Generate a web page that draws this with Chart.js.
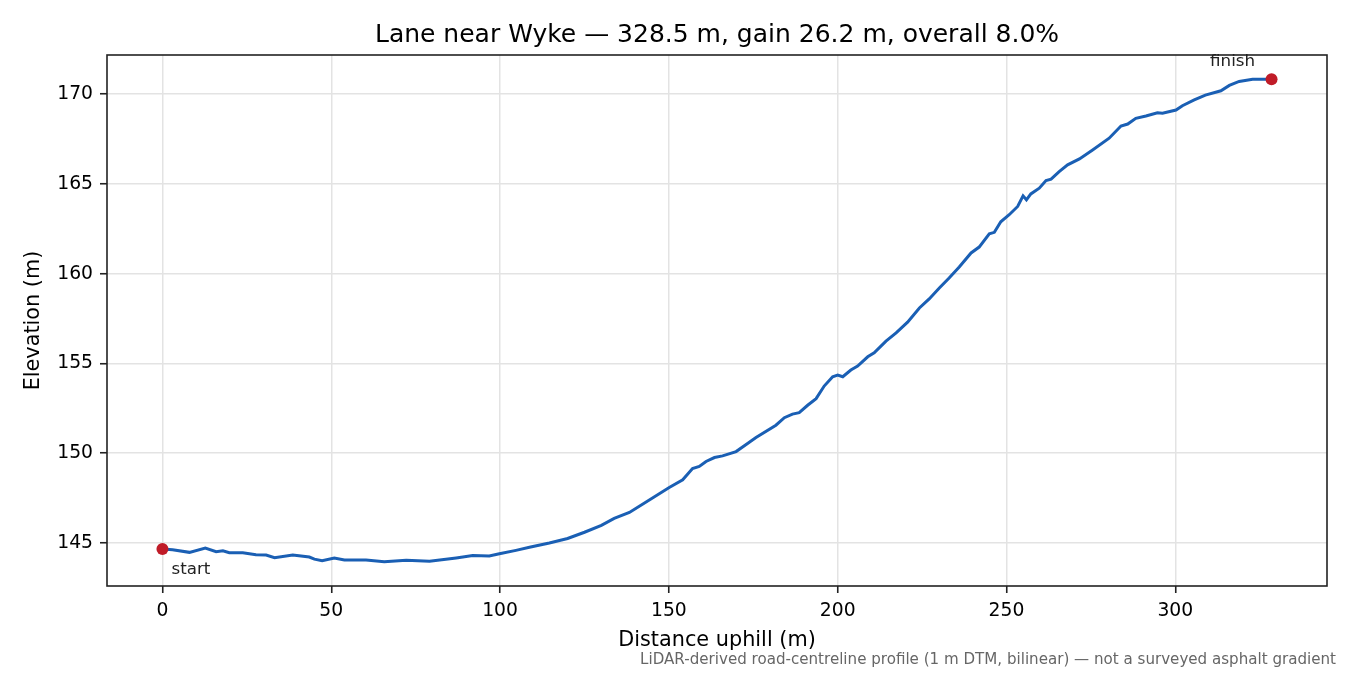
<!DOCTYPE html>
<html>
<head>
<meta charset="utf-8">
<script src="https://cdn.jsdelivr.net/npm/chart.js@4/dist/chart.umd.min.js"></script>
<style>
  html, body { margin: 0; padding: 0; background: #fff; }
  #wrap { width: 1350px; height: 675px; }
</style>
</head>
<body>
<div id="wrap"><canvas id="profile" width="1350" height="675"></canvas></div>
<script>
const distM = [0, 3, 8, 12.7, 15.9, 17.9, 19.8, 23.8, 27.7, 30.7, 33.2, 38.6, 43.5, 45, 47.3, 50.9, 53.9, 60.3, 65.7, 72.2, 79.1, 87, 91.9, 96.8, 99.8, 104.7, 108.7, 114.6, 120, 125, 130, 133.8, 138.3, 144.2, 150.1, 154.1, 157, 159, 161, 163.5, 165.9, 169.9, 173.3, 175.8, 181.7, 184.2, 186.6, 188.6, 191.1, 193.6, 196, 198.5, 200, 201.5, 203.9, 205.9, 208.9, 210.8, 214.3, 217.3, 220.7, 224.2, 227.1, 230.1, 233, 236, 239.5, 241.9, 244.9, 246.4, 248.3, 250.8, 253.3, 254.9, 255.9, 257.2, 259.7, 261.7, 263.2, 265.6, 268.1, 271.6, 275.5, 280.4, 283.9, 285.9, 288.3, 291.3, 294.7, 296.2, 300.2, 302.1, 305.6, 308.9, 313.5, 316, 318.9, 322.9, 328.5]
const elevM = [144.67, 144.62, 144.48, 144.72, 144.52, 144.57, 144.46, 144.46, 144.35, 144.33, 144.18, 144.33, 144.22, 144.1, 144.02, 144.17, 144.06, 144.05, 143.95, 144.04, 143.98, 144.17, 144.3, 144.28, 144.4, 144.59, 144.76, 145.0, 145.25, 145.6, 145.98, 146.37, 146.7, 147.4, 148.09, 148.52, 149.15, 149.26, 149.54, 149.76, 149.85, 150.09, 150.54, 150.87, 151.56, 151.98, 152.18, 152.26, 152.67, 153.04, 153.74, 154.26, 154.35, 154.26, 154.63, 154.85, 155.37, 155.59, 156.24, 156.7, 157.3, 158.09, 158.59, 159.2, 159.76, 160.37, 161.15, 161.48, 162.22, 162.3, 162.89, 163.28, 163.74, 164.33, 164.11, 164.44, 164.76, 165.18, 165.26, 165.68, 166.06, 166.39, 166.89, 167.54, 168.22, 168.33, 168.65, 168.78, 168.96, 168.93, 169.11, 169.35, 169.67, 169.94, 170.18, 170.48, 170.7, 170.82, 170.83]
const endLabels = ['start', 'finish']
const xTicks = [0, 50, 100, 150, 200, 250, 300]
const yTicks = [145, 150, 155, 160, 165, 170]
const titleText = 'Lane near Wyke \u2014 328.5 m, gain 26.2 m, overall 8.0%'
const noteText = 'LiDAR-derived road-centreline profile (1 m DTM, bilinear) \u2014 not a surveyed asphalt gradient'

const FONT = 'DejaVu Sans'
const last = distM.length - 1
const span = distM[last] - distM[0]
const lo = Math.min(...elevM), hi = Math.max(...elevM)

const linePts = distM.map((d, i) => ({x: d, y: elevM[i]}))
const endPts = [{x: distM[0], y: elevM[0]}, {x: distM[last], y: elevM[last]}]

const keepTicks = list => scale => {
    scale.ticks = list.map(v => ({value: v}))
}

// title centred over the plot box, frame, end labels and footnote
const frameAndNotes = {
    id: 'frameAndNotes',
    afterDatasetsDraw(chart) {
        const {ctx, chartArea: a, scales} = chart
        ctx.save()
        ctx.strokeStyle = '#222'
        ctx.lineWidth = 1.6
        ctx.strokeRect(a.left, a.top, a.right - a.left, a.bottom - a.top)

        ctx.fillStyle = '#000'
        ctx.font = `25px "${FONT}"`
        ctx.textAlign = 'center'
        ctx.textBaseline = 'alphabetic'
        ctx.fillText(titleText, (a.left + a.right) / 2, 42)

        ctx.fillStyle = '#222'
        ctx.font = `16.7px "${FONT}"`
        const sx = scales.x.getPixelForValue(endPts[0].x)
        const sy = scales.y.getPixelForValue(endPts[0].y)
        ctx.textAlign = 'left'
        ctx.fillText(endLabels[0], sx + 9, sy + 25)
        const fx = scales.x.getPixelForValue(endPts[1].x)
        const fy = scales.y.getPixelForValue(endPts[1].y)
        ctx.textAlign = 'center'
        ctx.fillText(endLabels[1], fx - 39, fy - 13)

        ctx.fillStyle = '#666'
        ctx.font = `15.1px "${FONT}"`
        ctx.textAlign = 'right'
        ctx.textBaseline = 'middle'
        ctx.fillText(noteText, 1336, 660)
        ctx.restore()
    }
}

const ctx = document.querySelector('#profile').getContext('2d')

const chart = new Chart(ctx, {
    type: 'scatter',
    data: {
        datasets: [{
            label: 'profile',
            data: linePts,
            showLine: true,
            borderColor: '#1a5fb4',
            borderWidth: 3,
            pointRadius: 0,
            tension: 0,
            order: 2
        }, {
            label: 'ends',
            data: endPts,
            showLine: false,
            pointRadius: 6,
            pointBackgroundColor: '#c01c28',
            pointBorderWidth: 0,
            clip: false,
            order: 1
        }]
    },
    options: {
        responsive: false,
        animation: false,
        devicePixelRatio: 1,
        layout: {padding: {left: 0, right: 23, top: 55, bottom: 0}},
        plugins: {
            legend: {display: false},
            tooltip: {enabled: false},
            title: {display: false}
        },
        scales: {
            x: {
                type: 'linear',
                min: distM[0] - 0.05 * span,
                max: distM[last] + 0.05 * span,
                afterBuildTicks: keepTicks(xTicks),
                afterFit: s => { s.height = 89 },
                border: {display: false},
                grid: {color: '#e3e3e3', lineWidth: 1.5, tickColor: '#222', tickWidth: 1.6, tickLength: 7},
                ticks: {color: '#000', font: {family: FONT, size: 18.75}, padding: 7, maxRotation: 0},
                title: {display: true, text: 'Distance uphill (m)', color: '#000',
                    font: {family: FONT, size: 20.8}, padding: {top: 0, bottom: 22}}
            },
            y: {
                type: 'linear',
                min: lo - 0.05 * (hi - lo),
                max: hi + 0.05 * (hi - lo),
                afterBuildTicks: keepTicks(yTicks),
                afterFit: s => { s.width = 107 },
                border: {display: false},
                grid: {color: '#e3e3e3', lineWidth: 1.5, tickColor: '#222', tickWidth: 1.6, tickLength: 7},
                ticks: {color: '#000', font: {family: FONT, size: 18.75}, padding: 7},
                title: {display: true, text: 'Elevation (m)', color: '#000',
                    font: {family: FONT, size: 20.8}, padding: {top: 21, bottom: 0}}
            }
        }
    },
    plugins: [frameAndNotes]
});
</script>
</body>
</html>
